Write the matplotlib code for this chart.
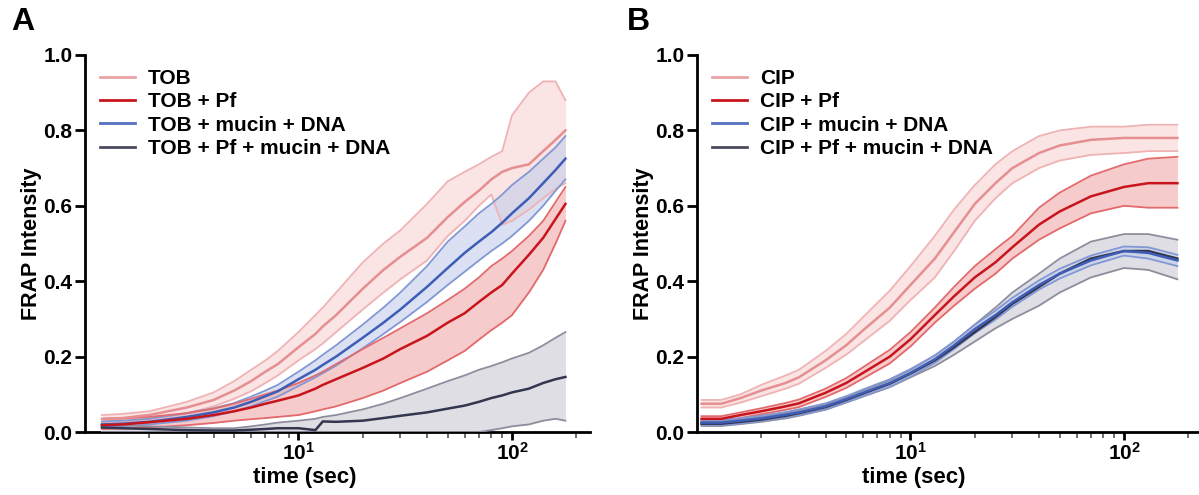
import matplotlib
matplotlib.use("Agg")
import matplotlib.pyplot as plt
import matplotlib.ticker as mticker
from matplotlib.lines import Line2D
import numpy as np

plt.rcParams.update({
    "font.family": ["Liberation Sans", "DejaVu Sans"],
    "font.weight": "bold",
    "axes.labelweight": "bold",
    "mathtext.fontset": "custom",
    "mathtext.rm": "Liberation Sans:bold",
    "mathtext.bf": "Liberation Sans:bold",
    "mathtext.it": "Liberation Sans:bold",
})

# ── panel A (TOB) ─────────────────────────────────────────────────────────────
T_A = [1.2, 1.5, 2, 3, 4, 5, 6, 7, 8, 10, 12, 13, 15, 20, 25, 30, 40, 50, 60,
       70, 80, 90, 100, 120, 140, 160, 178]

tob_mid = [0.035, 0.037, 0.045, 0.065, 0.085, 0.11, 0.135, 0.16, 0.18, 0.225, 0.26, 0.28, 0.31,
           0.38, 0.43, 0.465, 0.515, 0.57, 0.61, 0.64, 0.67, 0.69, 0.70, 0.71, 0.745, 0.775, 0.80]
tob_hi = [0.045, 0.048, 0.055, 0.08, 0.105, 0.135, 0.165, 0.19, 0.215, 0.265, 0.31, 0.33, 0.37,
          0.45, 0.50, 0.535, 0.605, 0.665, 0.69, 0.71, 0.73, 0.745, 0.84, 0.90, 0.93, 0.93, 0.88]
tob_lo = [0.025, 0.027, 0.035, 0.05, 0.068, 0.088, 0.108, 0.13, 0.15, 0.19, 0.22, 0.235, 0.265,
          0.325, 0.37, 0.405, 0.455, 0.52, 0.56, 0.60, 0.63, 0.55, 0.56, 0.59, 0.62, 0.645, 0.66]

tobpf_mid = [0.018, 0.02, 0.026, 0.035, 0.045, 0.055, 0.065, 0.075, 0.083, 0.097, 0.115, 0.125, 0.14,
             0.17, 0.195, 0.22, 0.255, 0.29, 0.315, 0.345, 0.37, 0.39, 0.42, 0.47, 0.515, 0.565, 0.605]
tobpf_hi = [0.035, 0.036, 0.04, 0.05, 0.062, 0.075, 0.088, 0.10, 0.11, 0.13, 0.15, 0.16, 0.18,
            0.22, 0.25, 0.275, 0.315, 0.35, 0.38, 0.41, 0.44, 0.46, 0.48, 0.52, 0.56, 0.61, 0.65]
tobpf_lo = [0.008, 0.009, 0.012, 0.018, 0.024, 0.03, 0.034, 0.037, 0.04, 0.045, 0.055, 0.06, 0.068,
            0.09, 0.11, 0.13, 0.16, 0.19, 0.215, 0.245, 0.27, 0.29, 0.31, 0.37, 0.43, 0.50, 0.56]

tobmd_mid = [0.02, 0.022, 0.027, 0.04, 0.052, 0.065, 0.08, 0.095, 0.108, 0.14, 0.165, 0.178, 0.20,
             0.25, 0.29, 0.325, 0.385, 0.435, 0.475, 0.505, 0.53, 0.555, 0.58, 0.62, 0.66, 0.695, 0.725]
tobmd_hi = [0.028, 0.03, 0.035, 0.05, 0.063, 0.077, 0.094, 0.11, 0.125, 0.16, 0.19, 0.205, 0.23,
            0.285, 0.33, 0.37, 0.44, 0.505, 0.545, 0.58, 0.605, 0.63, 0.655, 0.69, 0.725, 0.755, 0.785]
tobmd_lo = [0.013, 0.015, 0.02, 0.03, 0.042, 0.055, 0.068, 0.082, 0.094, 0.122, 0.145, 0.156, 0.176,
            0.222, 0.26, 0.292, 0.345, 0.39, 0.425, 0.455, 0.48, 0.50, 0.52, 0.56, 0.60, 0.64, 0.67]

tobpfmd_mid = [0.012, 0.01, 0.008, 0.005, 0.004, 0.004, 0.006, 0.008, 0.01, 0.01, 0.005, 0.028, 0.027,
               0.03, 0.037, 0.043, 0.052, 0.062, 0.07, 0.08, 0.09, 0.097, 0.105, 0.115, 0.13, 0.14, 0.146]
tobpfmd_hi = [0.02, 0.018, 0.015, 0.012, 0.01, 0.01, 0.015, 0.02, 0.025, 0.03, 0.035, 0.04, 0.045,
              0.06, 0.075, 0.09, 0.115, 0.135, 0.15, 0.165, 0.175, 0.185, 0.195, 0.21, 0.23, 0.25, 0.265]
tobpfmd_lo = [0.0, 0.0, 0.0, 0.0, 0.0, 0.0, 0.0, 0.0, 0.0, 0.0, 0.0, 0.0, 0.0,
              0.0, 0.0, 0.0, 0.0, 0.0, 0.0, 0.0, 0.005, 0.01, 0.015, 0.02, 0.03, 0.035, 0.03]

# ── panel B (CIP) ─────────────────────────────────────────────────────────────
T_B = [1.05, 1.3, 1.6, 2, 2.6, 3, 4, 5, 6, 8, 10, 13, 16, 20, 25, 30, 40, 50, 70, 100, 130, 178]

cip_mid = [0.075, 0.075, 0.09, 0.11, 0.13, 0.145, 0.19, 0.23, 0.27, 0.33, 0.39, 0.46, 0.53,
           0.605, 0.66, 0.70, 0.74, 0.76, 0.775, 0.78, 0.78, 0.78]
cip_hi = [0.085, 0.085, 0.10, 0.125, 0.15, 0.165, 0.215, 0.26, 0.305, 0.375, 0.44, 0.52, 0.59,
          0.655, 0.71, 0.745, 0.785, 0.80, 0.81, 0.81, 0.815, 0.815]
cip_lo = [0.065, 0.065, 0.078, 0.095, 0.115, 0.128, 0.17, 0.205, 0.24, 0.295, 0.35, 0.41, 0.48,
          0.56, 0.62, 0.66, 0.70, 0.72, 0.735, 0.74, 0.745, 0.745]

cippf_mid = [0.035, 0.035, 0.045, 0.055, 0.068, 0.076, 0.104, 0.13, 0.157, 0.20, 0.246, 0.31, 0.36,
             0.41, 0.45, 0.49, 0.55, 0.585, 0.625, 0.65, 0.66, 0.66]
cippf_hi = [0.042, 0.042, 0.052, 0.063, 0.077, 0.086, 0.115, 0.143, 0.172, 0.218, 0.265, 0.33, 0.385,
            0.44, 0.485, 0.52, 0.595, 0.635, 0.68, 0.71, 0.725, 0.73]
cippf_lo = [0.028, 0.028, 0.037, 0.047, 0.059, 0.066, 0.093, 0.117, 0.142, 0.182, 0.227, 0.29, 0.335,
            0.38, 0.42, 0.46, 0.51, 0.54, 0.58, 0.60, 0.595, 0.595]

cipmd_mid = [0.025, 0.025, 0.03, 0.036, 0.046, 0.052, 0.068, 0.087, 0.104, 0.13, 0.157, 0.193, 0.23,
             0.273, 0.31, 0.344, 0.39, 0.42, 0.455, 0.48, 0.475, 0.455]
cipmd_hi = [0.032, 0.032, 0.037, 0.043, 0.053, 0.06, 0.076, 0.095, 0.113, 0.14, 0.167, 0.203, 0.24,
            0.284, 0.322, 0.356, 0.402, 0.433, 0.468, 0.492, 0.49, 0.47]
cipmd_lo = [0.018, 0.018, 0.023, 0.029, 0.039, 0.045, 0.06, 0.079, 0.095, 0.12, 0.147, 0.183, 0.22,
            0.262, 0.298, 0.332, 0.378, 0.407, 0.442, 0.468, 0.46, 0.44]

cippfmd_mid = [0.022, 0.022, 0.027, 0.033, 0.043, 0.05, 0.066, 0.085, 0.102, 0.128, 0.155, 0.19, 0.225,
               0.265, 0.305, 0.34, 0.385, 0.42, 0.46, 0.48, 0.48, 0.46]
cippfmd_hi = [0.028, 0.028, 0.033, 0.04, 0.05, 0.057, 0.073, 0.092, 0.11, 0.137, 0.165, 0.203, 0.24,
              0.285, 0.33, 0.37, 0.42, 0.46, 0.505, 0.525, 0.525, 0.51]
cippfmd_lo = [0.016, 0.016, 0.021, 0.027, 0.036, 0.043, 0.059, 0.078, 0.094, 0.119, 0.145, 0.175, 0.205,
              0.24, 0.275, 0.30, 0.335, 0.37, 0.41, 0.435, 0.43, 0.405]

LABELS_A = ["TOB", "TOB + Pf", "TOB + mucin + DNA", "TOB + Pf + mucin + DNA"]
LABELS_B = ["CIP", "CIP + Pf", "CIP + mucin + DNA", "CIP + Pf + mucin + DNA"]

# ── styles ────────────────────────────────────────────────────────────────────
STYLES = {
    "light": dict(line="#E58F92", edge="#EFB3B4", fill="#F7D3D3", legend="#EBA4A6"),
    "red":   dict(line="#C8141C", edge="#E26A6C", fill="#F0A9A9", legend="#C8141C"),
    "blue":  dict(line="#3E5DB6", edge="#8298D4", fill="#C3CEEC", legend="#5571C2"),
    "dark":  dict(line="#34354E", edge="#8D8E9D", fill="#C8C9D2", legend="#4A4B5F"),
}
ORDER = ["light", "red", "blue", "dark"]


def draw_band(ax, t, lo, mid, hi, key):
    s = STYLES[key]
    ax.fill_between(t, lo, hi, color=s["fill"], alpha=0.6, lw=0, zorder=2)
    ax.plot(t, hi, color=s["edge"], lw=1.3, zorder=3)
    ax.plot(t, lo, color=s["edge"], lw=1.3, zorder=3)
    ax.plot(t, mid, color=s["line"], lw=1.8, zorder=4)


def style_axes(ax, labels, xlab_x):
    ax.set_xscale("log")
    ax.set_xlim(1, 232)
    ax.set_ylim(0, 1.0)
    for side in ("top", "right"):
        ax.spines[side].set_visible(False)
    for side in ("left", "bottom"):
        ax.spines[side].set_linewidth(2)
    ax.xaxis.set_major_locator(mticker.FixedLocator([10, 100]))
    ax.xaxis.set_major_formatter(mticker.FixedFormatter([r"$10^{1}$", r"$10^{2}$"]))
    ax.xaxis.set_minor_locator(mticker.LogLocator(base=10, subs=np.arange(2, 10)))
    ax.xaxis.set_minor_formatter(mticker.NullFormatter())
    ax.set_yticks(np.arange(0, 1.01, 0.2))
    ax.yaxis.set_major_formatter(mticker.FormatStrFormatter("%.1f"))
    ax.tick_params(axis="y", which="major", length=7, width=2, labelsize=15, pad=2)
    ax.tick_params(axis="x", which="major", length=6, width=2, labelsize=15, pad=1)
    ax.tick_params(axis="x", which="minor", length=4, width=1.2, color="#555555")
    ax.set_ylabel("FRAP Intensity", fontsize=15.5)
    ax.yaxis.set_label_coords(-0.085, 0.5)
    ax.set_xlabel("time (sec)", fontsize=16)
    ax.xaxis.set_label_coords(xlab_x, -0.092)

    handles = [Line2D([], [], color=STYLES[k]["legend"], lw=2) for k in ORDER]
    ax.legend(handles, labels, loc="upper left", bbox_to_anchor=(0.03, 0.962),
              frameon=False, fontsize=15, handlelength=1.68, handletextpad=0.62,
              labelspacing=0.2, borderpad=0, borderaxespad=0)


fig = plt.figure(figsize=(11.99, 4.95), dpi=100)
W, H = 1199, 495
axA = fig.add_axes([85 / W, 1 - 432 / H, 505 / W, 377 / H])
axB = fig.add_axes([697 / W, 1 - 432 / H, 505 / W, 377 / H])

draw_band(axA, T_A, tob_lo, tob_mid, tob_hi, "light")
draw_band(axA, T_A, tobmd_lo, tobmd_mid, tobmd_hi, "blue")
draw_band(axA, T_A, tobpf_lo, tobpf_mid, tobpf_hi, "red")
draw_band(axA, T_A, tobpfmd_lo, tobpfmd_mid, tobpfmd_hi, "dark")
style_axes(axA, LABELS_A, 0.435)

draw_band(axB, T_B, cip_lo, cip_mid, cip_hi, "light")
draw_band(axB, T_B, cippf_lo, cippf_mid, cippf_hi, "red")
draw_band(axB, T_B, cippfmd_lo, cippfmd_mid, cippfmd_hi, "dark")
draw_band(axB, T_B, cipmd_lo, cipmd_mid, cipmd_hi, "blue")
style_axes(axB, LABELS_B, 0.43)

fig.text(11 / W, 1 - 22 / H, "A", fontsize=23, fontweight="bold", va="center", ha="left")
fig.text(627 / W, 1 - 22 / H, "B", fontsize=23, fontweight="bold", va="center", ha="left")

fig.savefig("out.png", dpi=100)
